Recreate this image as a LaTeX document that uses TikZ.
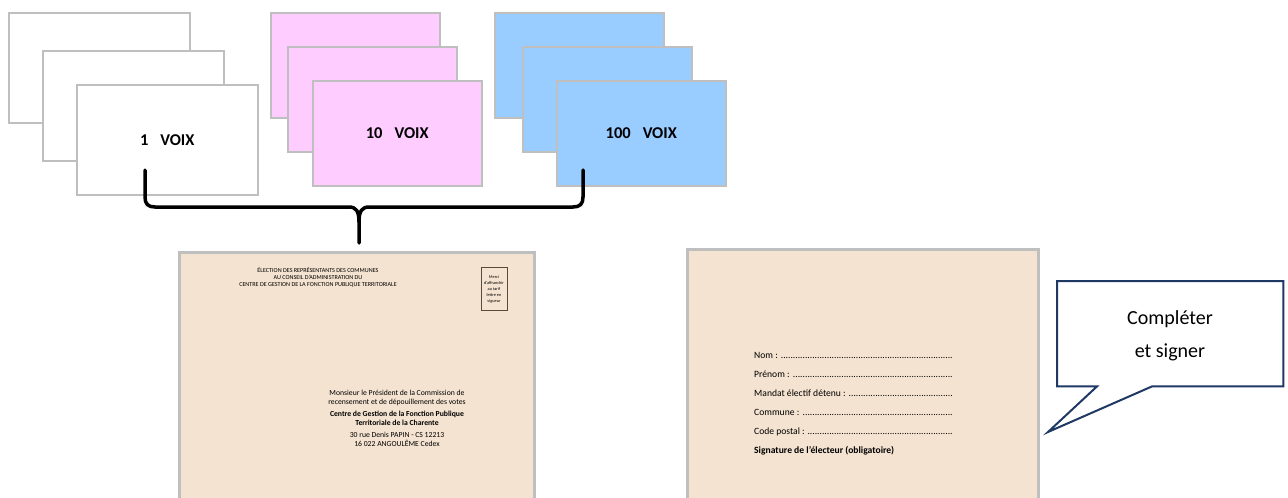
\documentclass[tikz,border=0pt]{standalone}
\usepackage{fontspec}
\setmainfont{Carlito}
\definecolor{cardgray}{HTML}{BFBFBF}
\definecolor{pinkc}{HTML}{FFCCFF}
\definecolor{bluec}{HTML}{99CCFF}
\definecolor{envc}{HTML}{F4E3D0}
\definecolor{navy}{HTML}{203864}
\definecolor{stampc}{HTML}{5A4A3C}
\begin{document}
\begin{tikzpicture}[x=1pt,y=-1pt,
  card/.style={draw=cardgray,line width=1.5pt,anchor=north west,minimum width=#1,minimum height=105pt,inner sep=0pt,font=\fontsize{16.5}{18}\selectfont\bfseries},
  card/.default=169pt,
  envelope/.style={draw=cardgray,fill=envc,line width=2.5pt,anchor=north west,minimum width=355pt,minimum height=250pt,inner sep=0pt},
  formline/.style={anchor=base west,inner sep=0pt,font=\fontsize{9.6}{11}\selectfont},
  brace/.style={line width=3.5pt,line cap=round,line join=round}]
\useasboundingbox (0,0) rectangle (1288,498);
% white cards
\node[card=181pt,minimum height=110pt,fill=white] (w1) at (8,12) {};
\node[card=181pt,minimum height=110pt,fill=white] (w2) at (42,50) {};
\node[card=181pt,minimum height=110pt,fill=white] (w3) at (76,84) {\raisebox{-4pt}{1\hspace{12pt}VOIX}};
% pink cards
\node[card,fill=pinkc] (p1) at (270,12) {};
\node[card,fill=pinkc] (p2) at (287,46) {};
\node[card,fill=pinkc] (p3) at (312,80) {10\hspace{12pt}VOIX};
% blue cards
\node[card,fill=bluec] (b1) at (494,12) {};
\node[card,fill=bluec] (b2) at (522,46) {};
\node[card,fill=bluec] (b3) at (556,80) {100\hspace{12pt}VOIX};
% brace
\coordinate (bl) at (145,170);
\coordinate (br) at (583,170);
\coordinate (bm) at (359,243);
\draw[brace] (bl) -- (145,197) .. controls (145,204) and (148,207) .. (155,207) -- (349,207)
  .. controls (356,207) and (359,211) .. (359,222) -- (bm);
\draw[brace] (br) -- (583,197) .. controls (583,204) and (580,207) .. (573,207) -- (369,207)
  .. controls (362,207) and (359,211) .. (359,222);
% envelopes
\node[envelope] (env1) at (178,251) {};
\node[envelope,minimum width=351pt] (env2) at (686,248) {};
% envelope 1 header
\node[inner sep=0pt,align=center,font=\fontsize{6.1}{7}\selectfont] (hdr) at (318,277)
  {ÉLECTION DES REPRÉSENTANTS DES COMMUNES\\AU CONSEIL D'ADMINISTRATION DU\\CENTRE DE GESTION DE LA FONCTION PUBLIQUE TERRITORIALE};
\node[draw=stampc,line width=0.8pt,minimum width=26pt,minimum height=43pt,inner sep=0pt,align=center,font=\fontsize{4.3}{6}\selectfont] (stamp) at (494,289)
  {Merci\\d'affranchir\\au tarif\\lettre en\\vigueur};
\node[inner sep=0pt,anchor=north,align=center,font=\fontsize{7.7}{9}\selectfont] (addr) at (397,390)
  {Monsieur le Président de la Commission de\\recensement et de dépouillement des votes\\[3pt]
   \textbf{Centre de Gestion de la Fonction Publique}\\\textbf{Territoriale de la Charente}\\[3pt]
   30 rue Denis PAPIN - CS 12213\\16 022 ANGOULÊME Cedex};
% envelope 2 form
\node[formline] (f1) at (754,358) {\hbox to 199pt{Nom :\ \leaders\hbox{.}\hfill}};
\node[formline] (f2) at (754,377) {\hbox to 199pt{Prénom :\ \leaders\hbox{.}\hfill}};
\node[formline] (f3) at (754,396) {\hbox to 199pt{Mandat électif détenu :\ \leaders\hbox{.}\hfill}};
\node[formline] (f4) at (754,415) {\hbox to 199pt{Commune :\ \leaders\hbox{.}\hfill}};
\node[formline] (f5) at (754,434) {\hbox to 199pt{Code postal :\ \leaders\hbox{.}\hfill}};
\node[formline,font=\fontsize{9.6}{11}\selectfont\bfseries] (f6) at (754,453) {Signature de l’électeur (obligatoire)};
% speech bubble
\node[minimum width=226pt,minimum height=105pt,inner sep=0pt,anchor=north west] (bubble) at (1057,281) {};
\coordinate (tip) at (1048,432);
\draw[navy,line width=2pt,fill=white,line join=miter] (bubble.north west) -- (bubble.north east) -- (bubble.south east)
  -- ([xshift=95pt]bubble.south west) -- (tip) -- ([xshift=40pt]bubble.south west) -- (bubble.south west) -- cycle;
\node[align=center,inner sep=0pt,font=\fontsize{20}{33}\selectfont] (btext) at (1170,336) {Compléter\\et signer};
\end{tikzpicture}
\end{document}
